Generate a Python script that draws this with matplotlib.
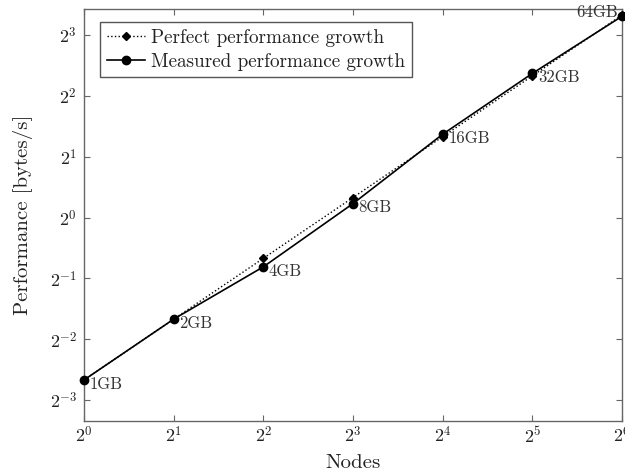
import matplotlib
matplotlib.use("Agg")
import math
import matplotlib.pyplot as plt
from matplotlib.ticker import FixedLocator, FuncFormatter

plt.rcParams['font.family'] = ['cmr10', 'DejaVu Serif']
plt.rcParams['mathtext.fontset'] = 'cm'
plt.rcParams['axes.unicode_minus'] = False

nodes = [1, 2, 4, 8, 16, 32, 64]
sizes = ["1GB", "2GB", "4GB", "8GB", "16GB", "32GB", "64GB"]
perfect_log2 = [-2.67, -1.67, -0.67, 0.33, 1.33, 2.33, 3.33]
measured_log2 = [-2.67, -1.67, -0.81, 0.23, 1.37, 2.37, 3.31]

perfect = [2 ** v for v in perfect_log2]
measured = [2 ** v for v in measured_log2]

fig = plt.figure(figsize=(6.25, 4.72), dpi=100)
ax = fig.add_axes([0.1344, 0.108, 0.8608, 0.873])

ax.plot(nodes, perfect, linestyle=':', color='black', linewidth=1.0,
        marker='D', markersize=4.5, label='Perfect performance growth', clip_on=False, zorder=3)
ax.plot(nodes, measured, linestyle='-', color='black', linewidth=1.2,
        marker='o', markersize=6, label='Measured performance growth', clip_on=False, zorder=4)

ax.set_xscale('log', base=2)
ax.set_yscale('log', base=2)
ax.set_xlim(1, 64)
ax.set_ylim(2 ** -3.345, 2 ** 3.43)

xt = [2 ** i for i in range(0, 7)]
yt = [2 ** i for i in range(-3, 4)]
ax.xaxis.set_major_locator(FixedLocator(xt))
ax.yaxis.set_major_locator(FixedLocator(yt))
ax.xaxis.set_minor_locator(FixedLocator([]))
ax.yaxis.set_minor_locator(FixedLocator([]))
fmt = FuncFormatter(lambda v, p: r'$2^{%d}$' % round(math.log2(v)))
ax.xaxis.set_major_formatter(fmt)
ax.yaxis.set_major_formatter(fmt)

ax.tick_params(direction='in', top=True, right=True, length=4, width=0.8,
               color='#666666', labelsize=13, labelcolor='#222222')
ax.tick_params(axis='x', pad=3)
ax.tick_params(axis='y', pad=5)
for s in ax.spines.values():
    s.set_color('#666666')
    s.set_linewidth(1.0)

ax.set_xlabel('Nodes', fontsize=15, labelpad=6, color='#222222')
ax.set_ylabel('Performance [bytes/s]', fontsize=15, labelpad=12, color='#222222')

for n, m, lab in zip(nodes, measured, sizes):
    if lab == "64GB":
        ax.annotate(lab, (n, m), xytext=(-3, 3), textcoords='offset points',
                    ha='right', va='center', fontsize=12, color='#333333')
    else:
        ax.annotate(lab, (n, m), xytext=(4, -3), textcoords='offset points',
                    ha='left', va='center', fontsize=12, color='#333333')

leg = ax.legend(loc='upper left', fontsize=13.8, frameon=True, fancybox=False,
                edgecolor='#555555', framealpha=1, handlelength=2.0,
                handletextpad=0.3, borderpad=0.35, labelspacing=0.3,
                borderaxespad=0, bbox_to_anchor=(0.03, 0.968))
for t in leg.get_texts():
    t.set_color('#222222')
leg.get_frame().set_linewidth(1.0)

fig.savefig('out.png', dpi=100)
